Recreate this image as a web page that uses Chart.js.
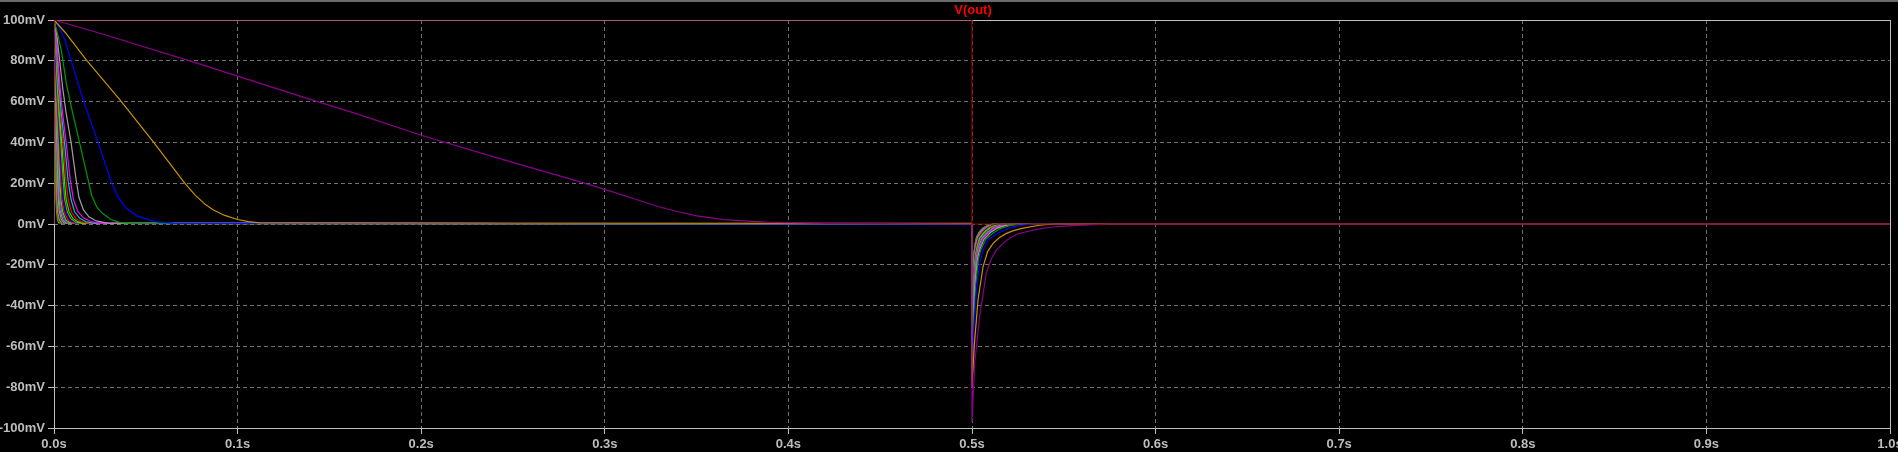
<!DOCTYPE html>
<html>
<head>
<meta charset="utf-8">
<script src="https://cdn.jsdelivr.net/npm/chart.js@4/dist/chart.umd.min.js"></script>
<style>
  html, body { margin: 0; padding: 0; background: #000; }
  canvas { display: block; }
</style>
</head>
<body>
<canvas id="grafico" width="1898" height="452"></canvas>
<script>
// Etiquetas de los ejes
var xTickLabels = ["0.0s", "0.1s", "0.2s", "0.3s", "0.4s", "0.5s", "0.6s", "0.7s", "0.8s", "0.9s", "1.0s"];
var yTickLabels = ["-100mV", "-80mV", "-60mV", "-40mV", "-20mV", "0mV", "20mV", "40mV", "60mV", "80mV", "100mV"];

// Curvas V(out) por paso: [tiempo s, tension mV]
var vDarkRed = [[0, 0], [0, 100], [0.5, 100], [0.5, 0], [1, 0]];
var vPurple = [[0, 100], [0.025, 93.5], [0.0792, 78.5], [0.1, 72.5], [0.134, 62.7], [0.165, 54], [0.2, 43.5], [0.24, 32.8], [0.2875, 20.4], [0.3, 17], [0.315, 12.6], [0.329, 8.6], [0.34, 6], [0.35, 4], [0.365, 2.1], [0.3875, 0.9], [0.42, 0.3], [0.5, 0],
  [0.5, -97], [0.5015, -68], [0.5042, -45], [0.5078, -24], [0.5105, -17], [0.5133, -12.7], [0.5175, -9], [0.5205, -7], [0.525, -4.8], [0.5296, -3.8], [0.536, -2.5], [0.5425, -1.6], [0.552, -0.9], [0.5633, -0.5], [0.575, 0], [1, 0]];
var vOrange = [[0, 100], [0.006, 94], [0.0176, 80.5], [0.0358, 61], [0.0539, 40.5], [0.0712, 20], [0.077, 14], [0.0825, 9.5], [0.0866, 7], [0.093, 4.2], [0.1, 2.2], [0.106, 1.2], [0.112, 0.6], [0.12, 0.5], [0.5, 0.3],
  [0.5, -80], [0.5012, -60], [0.5033, -37], [0.506, -21], [0.5085, -13.5], [0.5115, -9.5], [0.515, -6.6], [0.5187, -4.6], [0.523, -3.1], [0.5278, -2], [0.5369, -0.6], [0.545, 0], [1, 0]];
var vBlue = [[0, 100], [0.003, 96], [0.006, 90], [0.01, 78], [0.0158, 61], [0.024, 40], [0.0312, 20.5], [0.035, 13], [0.0394, 7.7], [0.045, 4], [0.052, 2], [0.0558, 1], [0.065, 0.4], [0.5, 0],
  [0.5, -78], [0.501, -52], [0.5025, -32], [0.5045, -18], [0.506, -12.7], [0.509, -7.5], [0.5141, -4.4], [0.52, -2], [0.526, -0.8], [0.533, 0], [1, 0]];
var vGreen = [[0, 100], [0.002, 93], [0.004, 85], [0.0069, 68], [0.0095, 57], [0.014, 39.5], [0.0185, 22], [0.0205, 14], [0.0235, 8], [0.0267, 5], [0.031, 2.2], [0.0358, 0.8], [0.042, 0.3], [0.5, 0],
  [0.5, -70], [0.5008, -48], [0.502, -30], [0.5035, -17], [0.5048, -12.7], [0.5075, -7.5], [0.5114, -4.4], [0.516, -2], [0.5205, -0.8], [0.527, 0], [1, 0]];
var vGray = [[0, 100], [0.0015, 93], [0.0047, 67], [0.0065, 55], [0.0093, 40], [0.012, 22], [0.0136, 13], [0.016, 7], [0.019, 3.5], [0.023, 1.5], [0.029, 0.4], [0.5, 0],
  [0.5, -75], [0.5007, -46], [0.5017, -29], [0.503, -17], [0.5042, -12.5], [0.5065, -7.5], [0.51, -4.2], [0.514, -2], [0.518, -0.8], [0.524, 0], [1, 0]];
var vMagenta = [[0, 100], [0.0012, 92], [0.0033, 67], [0.0046, 55], [0.0066, 40], [0.0088, 22], [0.0106, 12], [0.013, 6], [0.016, 3], [0.02, 1.2], [0.025, 0.3], [0.5, 0],
  [0.5, -69], [0.5006, -45], [0.5015, -28], [0.5027, -16.5], [0.5038, -12], [0.5058, -7.3], [0.509, -4.2], [0.5127, -2], [0.5165, -0.8], [0.522, 0], [1, 0]];
var vCyan = [[0, 100], [0.001, 92], [0.0028, 67], [0.0039, 55], [0.0057, 40], [0.0077, 21], [0.0093, 12], [0.0112, 6], [0.014, 2.8], [0.0175, 1.1], [0.022, 0.3], [0.5, 0],
  [0.5, -72], [0.5005, -44], [0.5013, -28], [0.5024, -16.5], [0.5034, -12], [0.5052, -7.3], [0.5082, -4.2], [0.5116, -2], [0.515, -0.8], [0.52, 0], [1, 0]];
var vRed = [[0, 100], [0.0009, 92], [0.0024, 67], [0.0034, 55], [0.0049, 40], [0.0066, 21], [0.0077, 12], [0.0095, 6], [0.012, 2.6], [0.015, 1], [0.019, 0.3], [0.5, 0],
  [0.5, -69], [0.5005, -43], [0.5012, -27], [0.5022, -16], [0.5031, -12], [0.5047, -7.2], [0.5075, -4.2], [0.5106, -2], [0.514, -0.8], [0.5185, 0], [1, 0]];
var vLime = [[0, 100], [0.0008, 92], [0.002, 67], [0.0029, 55], [0.0042, 40], [0.0057, 21], [0.0066, 12], [0.0082, 6], [0.0104, 2.6], [0.013, 1], [0.017, 0.3], [0.5, 0],
  [0.5, -68], [0.5004, -42], [0.5011, -27], [0.502, -16], [0.5028, -11.8], [0.5043, -7.1], [0.5069, -4.1], [0.5098, -2], [0.513, -0.8], [0.517, 0], [1, 0]];
var vOlive = [[0, 100], [0.0007, 92], [0.0018, 67], [0.0025, 55], [0.0037, 40], [0.005, 21], [0.0058, 12], [0.0072, 6], [0.0092, 2.6], [0.0116, 1], [0.015, 0.3], [0.5, 0],
  [0.5, -66], [0.5004, -41], [0.501, -26], [0.5018, -15.5], [0.5026, -11.6], [0.504, -7], [0.5064, -4.1], [0.5091, -2], [0.5122, -0.8], [0.516, 0], [1, 0]];
var vFast1 = [[0, 100], [0.0015, 67], [0.0032, 40], [0.0043, 21], [0.005, 12], [0.0062, 6], [0.0086, 2], [0.0115, 0.5], [0.5, 0],
  [0.5, -74], [0.5004, -40], [0.5009, -26], [0.5017, -15], [0.5024, -11.5], [0.5037, -7], [0.506, -4], [0.5086, -2], [0.5115, -0.8], [0.515, 0], [1, 0]];
var vFast2 = [[0, 100], [0.0013, 67], [0.0028, 40], [0.0038, 21], [0.0044, 12], [0.0055, 6], [0.0076, 2], [0.0101, 0.5], [0.5, 0],
  [0.5, -70], [0.5003, -40], [0.5009, -25], [0.5016, -15], [0.5022, -11.3], [0.5035, -6.9], [0.5056, -4], [0.5081, -2], [0.5108, -0.8], [0.514, 0], [1, 0]];
var vFast3 = [[0, 100], [0.0011, 67], [0.0024, 40], [0.0032, 21], [0.0038, 12], [0.0047, 6], [0.0065, 2], [0.0086, 0.5], [0.5, 0],
  [0.5, -68], [0.5003, -39], [0.5008, -25], [0.5015, -15], [0.5021, -11.2], [0.5033, -6.8], [0.5053, -4], [0.5077, -2], [0.5103, -0.8], [0.5135, 0], [1, 0]];
var vFast4 = [[0, 100], [0.001, 67], [0.0021, 40], [0.0028, 21], [0.0033, 12], [0.0041, 6], [0.0057, 2], [0.0076, 0.5], [0.5, 0],
  [0.5, -72], [0.5003, -38], [0.5008, -24.5], [0.5014, -14.8], [0.502, -11], [0.5031, -6.8], [0.505, -4], [0.5073, -2], [0.5099, -0.8], [0.513, 0], [1, 0]];
var vFast5 = [[0, 100], [0.0009, 67], [0.0018, 40], [0.0024, 21], [0.0028, 12], [0.0035, 6], [0.0049, 2], [0.0065, 0.5], [0.5, 0],
  [0.5, -66], [0.5003, -37.5], [0.5007, -24], [0.5013, -14.5], [0.5019, -10.8], [0.503, -6.7], [0.5048, -3.9], [0.5071, -2], [0.5096, -0.8], [0.5125, 0], [1, 0]];
var vFast6 = [[0, 100], [0.0007, 67], [0.0015, 40], [0.002, 21], [0.0024, 12], [0.0029, 6], [0.0041, 2], [0.0054, 0.5], [0.5, 0],
  [0.5, -70], [0.5003, -37], [0.5007, -23.5], [0.5013, -14.3], [0.5018, -10.6], [0.5029, -6.6], [0.5046, -3.9], [0.5068, -2], [0.5093, -0.8], [0.512, 0], [1, 0]];
var vFast7 = [[0, 100], [0.0006, 67], [0.0013, 40], [0.0018, 21], [0.0021, 12], [0.0025, 6], [0.0035, 2], [0.0047, 0.5], [0.5, 0],
  [0.5, -65], [0.5002, -36.5], [0.5007, -23], [0.5012, -14], [0.5017, -10.4], [0.5028, -6.5], [0.5044, -3.9], [0.5066, -2], [0.509, -0.8], [0.5118, 0], [1, 0]];
var vFast8 = [[0, 100], [0.0005, 67], [0.0011, 40], [0.0015, 21], [0.0017, 12], [0.0021, 6], [0.003, 2], [0.004, 0.5], [0.5, 0],
  [0.5, -68], [0.5002, -36], [0.5006, -22.5], [0.5012, -13.8], [0.5017, -10.2], [0.5027, -6.4], [0.5042, -3.8], [0.5064, -2], [0.5088, -0.8], [0.5115, 0], [1, 0]];
var vFast9 = [[0, 100], [0.0004, 67], [0.0009, 40], [0.0012, 21], [0.0014, 12], [0.0018, 6], [0.0024, 2], [0.0032, 0.5], [0.5, 0],
  [0.5, -64], [0.5002, -35.5], [0.5006, -22.2], [0.5011, -13.6], [0.5016, -10.1], [0.5026, -6.3], [0.5041, -3.8], [0.5062, -2], [0.5086, -0.8], [0.5112, 0], [1, 0]];
var vFast10 = [[0, 100], [0.0003, 67], [0.0007, 40], [0.0009, 21], [0.0011, 12], [0.0014, 6], [0.0019, 2], [0.0025, 0.5], [0.5, 0],
  [0.5, -62], [0.5002, -35], [0.5006, -22], [0.5011, -13.5], [0.5016, -10], [0.5025, -6.3], [0.504, -3.8], [0.506, -2], [0.5085, -0.8], [0.511, 0], [1, 0]];

// Orden de dibujo: la primera queda encima
var curvas = [vDarkRed, vPurple, vOrange, vBlue, vGreen, vGray, vMagenta, vCyan, vRed, vLime, vOlive,
  vFast1, vFast2, vFast3, vFast4, vFast5, vFast6, vFast7, vFast8, vFast9, vFast10];
var colores = ["#900000", "#8c008c", "#cc9200", "#0000ff", "#009900", "#a0a0a0", "#ff00ff", "#00c8c8", "#ff0000", "#00ff00", "#8c8c00",
  "#0000ff", "#ff0000", "#00ff00", "#ff00ff", "#00c8c8", "#cc9200", "#8c008c", "#a0a0a0", "#009900", "#8c8c00"];

var colorTexto = "#bdbdbd";
var fuenteEjes = { family: "'Liberation Sans', Arial, sans-serif", size: 13, weight: "bold" };

// Fondo negro, marco y titulo
var pluginFondo = {
    id: "fondo",
    beforeDraw: function(chart) {
        var ctx = chart.ctx;
        ctx.save();
        ctx.fillStyle = "#000000";
        ctx.fillRect(0, 0, chart.width, chart.height);
        ctx.fillStyle = "#6a6a6a";
        ctx.fillRect(0, 0, chart.width, 2);
        ctx.restore();
    },
    beforeDatasetsDraw: function(chart) {
        var a = chart.chartArea;
        var ctx = chart.ctx;
        ctx.save();
        ctx.strokeStyle = "#c0c0c0";
        ctx.lineWidth = 1;
        ctx.strokeRect(Math.round(a.left) + 0.5, Math.round(a.top) + 0.5, Math.round(a.right - a.left), Math.round(a.bottom - a.top));
        ctx.restore();
    },
    afterDraw: function(chart) {
        var ctx = chart.ctx;
        var xMitad = chart.scales.x.getPixelForValue(0.5);
        ctx.save();
        ctx.font = "bold 13px 'Liberation Sans', Arial, sans-serif";
        ctx.fillStyle = "#ff0000";
        ctx.textAlign = "center";
        ctx.textBaseline = "middle";
        ctx.fillText("V(out)", xMitad + 1, 10);
        ctx.restore();
    }
};

var datasets = curvas.map(function(puntos, i) {
    return {
        data: puntos,
        borderColor: colores[i],
        borderWidth: 1.2,
        pointRadius: 0,
        showLine: true,
        fill: false,
        tension: 0
    };
});

var contexto = document.getElementById("grafico").getContext("2d");
var miGrafico = new Chart(contexto, {
    type: "scatter",
    data: { datasets: datasets },
    options: {
        responsive: false,
        animation: false,
        events: [],
        layout: { padding: { top: 20, right: 8, left: 0, bottom: 0 } },
        plugins: { legend: { display: false }, tooltip: { enabled: false } },
        scales: {
            x: {
                type: "linear",
                min: 0,
                max: 1,
                ticks: {
                    stepSize: 0.1,
                    autoSkip: false,
                    maxRotation: 0,
                    padding: 3,
                    color: colorTexto,
                    font: fuenteEjes,
                    callback: function(valor, indice) { return xTickLabels[indice]; }
                },
                grid: { color: "#707070", tickColor: "#c0c0c0", tickLength: 6, tickBorderDash: [], borderDash: [4, 3] },
                border: { display: false, dash: [4, 3] },
                afterFit: function(escala) {
                    escala.height = 24;
                    escala.paddingLeft = 0;
                    escala.paddingRight = 0;
                }
            },
            y: {
                type: "linear",
                min: -100,
                max: 100,
                ticks: {
                    stepSize: 20,
                    padding: 3,
                    color: colorTexto,
                    font: fuenteEjes,
                    callback: function(valor, indice) { return yTickLabels[indice]; }
                },
                grid: { color: "#707070", tickColor: "#c0c0c0", tickLength: 6, tickBorderDash: [], borderDash: [4, 3] },
                border: { display: false, dash: [4, 3] },
                afterFit: function(escala) {
                    escala.width = 54;
                    escala.paddingTop = 0;
                    escala.paddingBottom = 0;
                }
            }
        }
    },
    plugins: [pluginFondo]
});
</script>
</body>
</html>
